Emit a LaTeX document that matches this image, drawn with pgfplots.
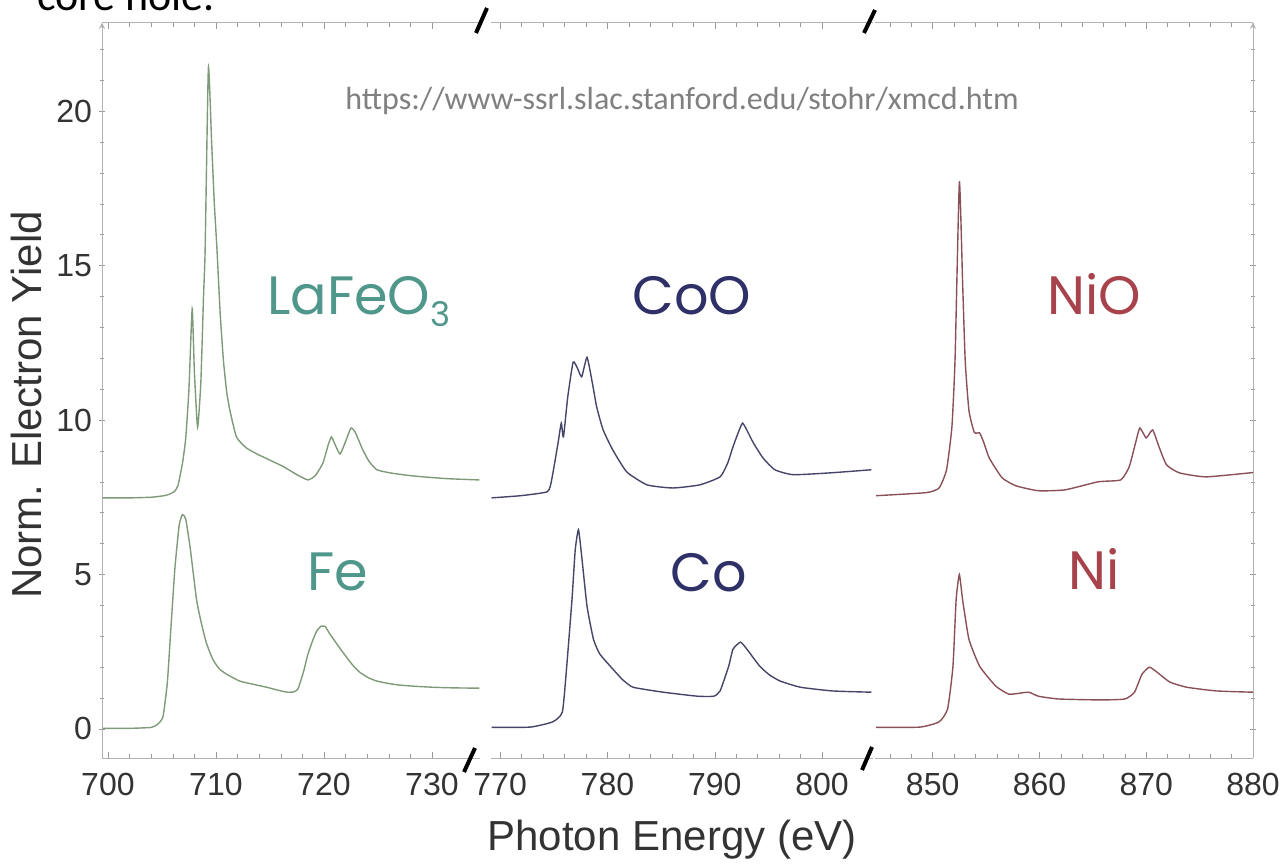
\documentclass[border=0pt]{standalone}
\usepackage{pgfplots}
\pgfplotsset{compat=1.18}
\usepackage{fontspec}
\setmainfont{Liberation Sans}
\newfontfamily\calib{Carlito}
\newfontfamily\geo{Poppins}
\definecolor{fecurve}{HTML}{7F9A78}
\definecolor{cocurve}{HTML}{45456A}
\definecolor{nicurve}{HTML}{8A5058}
\definecolor{felabel}{HTML}{4F978A}
\definecolor{colabel}{HTML}{303068}
\definecolor{nilabel}{HTML}{A8434C}

\pgfplotstableread{
x y
699.5 0.02
702 0.02
704 0.05
704.6 0.15
705.1 0.4
705.5 1.5
705.8 3.1
706.2 5.2
706.6 6.6
706.9 6.94
707.2 6.8
707.6 5.9
708.2 4.2
708.6 3.5
709.1 2.8
709.7 2.26
710.3 1.95
711.0 1.77
712.2 1.55
713.4 1.45
714.7 1.35
715.8 1.25
716.6 1.19
717.2 1.2
717.6 1.3
718.1 1.84
718.5 2.4
718.9 2.81
719.3 3.15
719.7 3.32
720.1 3.32
720.5 3.1
720.9 2.9
721.5 2.6
722.1 2.32
722.7 2.05
723.3 1.84
724.1 1.66
724.9 1.55
726.0 1.47
727.0 1.42
728.5 1.38
730.1 1.35
732.0 1.33
734.4 1.32
}\Fe

\pgfplotstableread{
x y
699.5 7.48
702 7.48
704 7.5
705.2 7.55
705.7 7.6
706.2 7.7
706.5 7.9
706.9 8.6
707.2 9.4
707.5 11.0
707.8 13.6
708.0 11.6
708.3 9.77
708.6 11.2
708.85 14.0
709.0 15.5
709.3 21.4
709.6 19.0
709.85 17.0
710.1 15.5
710.4 13.4
710.7 11.9
711.0 10.9
711.3 10.3
711.9 9.45
712.8 9.1
713.8 8.9
715.0 8.7
716.2 8.5
717.4 8.25
718.5 8.06
719.2 8.2
719.9 8.6
720.4 9.2
720.7 9.45
721.1 9.15
721.5 8.9
722.0 9.3
722.5 9.74
722.9 9.6
723.6 9.03
724.2 8.65
724.9 8.39
726.1 8.29
727.5 8.22
729.2 8.16
731.5 8.1
734.4 8.06
}\LaFeO

\pgfplotstableread{
x y
769.2 7.48
771.9 7.55
774.4 7.68
774.8 8.06
775.4 9.26
775.7 9.9
775.9 9.45
776.3 10.74
776.8 11.87
777.2 11.68
777.6 11.4
778.1 12.03
778.6 11.19
779.0 10.42
779.6 9.68
780.5 9.03
781.8 8.32
783.7 7.9
786.1 7.8
788.6 7.9
790.5 8.16
791.2 8.6
791.7 9.13
792.2 9.6
792.6 9.9
793.1 9.6
793.6 9.26
794.5 8.77
795.6 8.39
797.3 8.23
800.8 8.29
804.6 8.39
}\CoO

\pgfplotstableread{
x y
769.2 0.05
772.8 0.06
774.9 0.23
775.8 0.55
776.2 2.0
776.7 4.2
777.0 5.8
777.3 6.45
777.6 5.6
778.1 3.97
778.7 2.9
779.3 2.42
780.5 1.94
781.4 1.6
782.4 1.35
785.2 1.19
788.4 1.06
789.9 1.06
790.5 1.23
791.3 2.03
791.7 2.58
792.4 2.81
793.0 2.58
794.2 2.03
795.1 1.75
796.1 1.55
798.0 1.35
801.0 1.23
804.6 1.19
}\Co

\pgfplotstableread{
x y
844.7 7.55
849.4 7.65
850.6 7.8
851.3 8.39
851.8 9.77
852.1 12.0
852.5 17.7
852.8 14.5
853.05 11.9
853.4 10.3
853.9 9.6
854.4 9.58
854.8 9.26
855.3 8.77
856.5 8.13
857.8 7.87
859.9 7.71
862.4 7.74
865.5 8.0
867.6 8.06
868.4 8.48
869.0 9.26
869.4 9.74
870.0 9.42
870.6 9.68
871.2 9.13
871.9 8.55
873.1 8.29
875.6 8.16
880.0 8.3
}\NiO

\pgfplotstableread{
x y
844.7 0.05
848.8 0.06
850.6 0.23
851.4 0.65
851.9 2.03
852.2 4.2
852.5 5.0
852.8 4.19
853.4 2.9
854.4 2.03
855.9 1.39
857.1 1.13
858.0 1.15
859.0 1.19
859.9 1.06
861.8 0.97
865.7 0.94
868.0 0.97
868.9 1.19
869.6 1.77
870.3 2.0
871.0 1.84
872.2 1.52
873.8 1.35
876.6 1.23
880.0 1.19
}\Ni

\begin{document}
\begin{tikzpicture}
\pgfplotsset{
 panel/.style={
  scale only axis, height=367.65pt, anchor=south west,
  ymin=-0.94, ymax=22.86,
  axis line style={draw=black!30,-},
  tick style={draw=black!40},
  tick align=inside,
  major tick length=3pt, minor tick length=2pt,
  xtick distance=10, minor x tick num=4,
  ytick distance=5, minor y tick num=4,
  axis x line=box,
  xticklabel style={font=\fontsize{16}{16}\selectfont, text=black!80, yshift=-4pt},
  yticklabel style={font=\fontsize{16}{16}\selectfont, text=black!80},
  /pgf/number format/assume math mode=true,
  /pgf/number format/1000 sep={},
 },
 curve/.style={#1, line width=0.7pt, smooth, tension=0.3},
}
\begin{axis}[panel, at={(51pt,52.5pt)}, width=189pt, xmin=699.45, xmax=734.45, axis y line=left]
\addplot[curve=fecurve] table {\Fe};
\addplot[curve=fecurve] table {\LaFeO};
\end{axis}
\begin{axis}[panel, at={(245.5pt,52.5pt)}, width=191pt, xmin=769.15, xmax=804.75, axis y line=none]
\addplot[curve=cocurve] table {\Co};
\addplot[curve=cocurve] table {\CoO};
\end{axis}
\begin{axis}[panel, at={(437.5pt,52.5pt)}, width=189pt, xmin=844.6, xmax=880, axis y line=right, yticklabels={}]
\addplot[curve=nicurve] table {\Ni};
\addplot[curve=nicurve] table {\NiO};
\end{axis}
\begin{scope}[x=0.5pt,y=-0.5pt,shift={(0pt,431.5pt)}]
\draw[line width=2pt, black] (464,772) -- (475,748);
\draw[line width=2pt, black] (862,770) -- (872,747);
\draw[line width=2pt, black] (476,33) -- (487,8);
\draw[line width=2pt, black] (864,33) -- (875,10);
\node[anchor=base west, inner sep=0, font=\calib\fontsize{16}{16}\selectfont, text=black!50] at (345,110) {https://www-ssrl.slac.stanford.edu/stohr/xmcd.htm};
\node[anchor=base west, inner sep=0, font=\calib\fontsize{22}{22}\selectfont, text=black] at (37,11) {core hole.};
\node[anchor=base, inner sep=0, font=\fontsize{21}{21}\selectfont, text=black!80] at (672,850) {Photon Energy (eV)};
\node[anchor=base, rotate=90, inner sep=0, font=\fontsize{21}{21}\selectfont, text=black!80] at (41.5,405) {Norm. Electron Yield};
\node[anchor=base west, inner sep=0, font=\geo\fontsize{27}{27}\selectfont, text=felabel] at (267,315) {LaFeO\raisebox{-6pt}{\fontsize{17}{17}\selectfont 3}};
\node[anchor=base, inner sep=0, font=\geo\fontsize{27}{27}\selectfont, text=colabel] at (692,315) {CoO};
\node[anchor=base, inner sep=0, font=\geo\fontsize{27}{27}\selectfont, text=nilabel] at (1094,315) {NiO};
\node[anchor=base, inner sep=0, font=\geo\fontsize{27}{27}\selectfont, text=felabel] at (338,591) {Fe};
\node[anchor=base, inner sep=0, font=\geo\fontsize{27}{27}\selectfont, text=colabel] at (709,592) {Co};
\node[anchor=base, inner sep=0, font=\geo\fontsize{27}{27}\selectfont, text=nilabel] at (1094,590) {Ni};
\end{scope}
\pgfresetboundingbox
\path[use as bounding box] (0,0) rectangle (642.5pt,431.5pt);
\end{tikzpicture}
\end{document}
